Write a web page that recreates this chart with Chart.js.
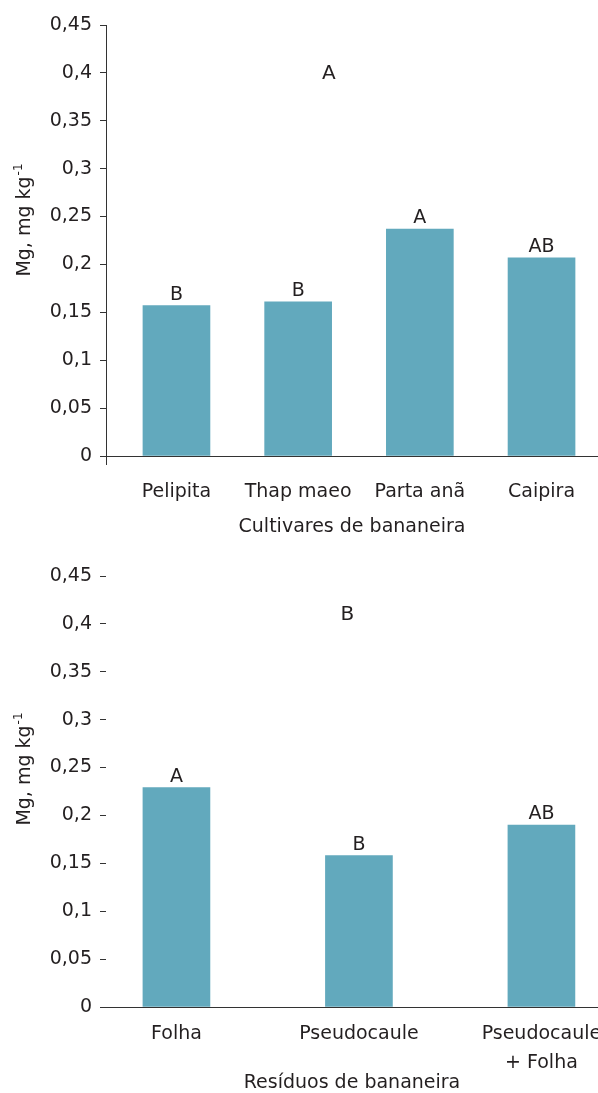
<!DOCTYPE html>
<html>
<head>
<meta charset="utf-8">
<script src="https://cdn.jsdelivr.net/npm/chart.js@4/dist/chart.umd.min.js"></script>
<style>
  html, body { margin: 0; padding: 0; background: #fff; }
  #wrap { position: relative; width: 598px; height: 1093px; overflow: hidden; }
  .box { position: absolute; left: 0; width: 598px; }
  #b1 { top: 0; height: 540px; }
  #b2 { top: 540px; height: 553px; }
</style>
</head>
<body>
<div id="wrap">
  <div class="box" id="b1"><canvas id="c1" width="598" height="540"></canvas></div>
  <div class="box" id="b2"><canvas id="c2" width="598" height="553"></canvas></div>
</div>
<script>
// ---- data ----
const cultivares = ['Pelipita', 'Thap maeo', 'Parta anã', 'Caipira'];
const mgCultivares = [0.157, 0.161, 0.237, 0.207];
const letrasCultivares = ['B', 'B', 'A', 'AB'];

const residuos = ['Folha', 'Pseudocaule', ['Pseudocaule', '+ Folha']];
const mgResiduos = [0.229, 0.158, 0.190];
const letrasResiduos = ['A', 'B', 'AB'];

const yTicks = [0, 0.05, 0.1, 0.15, 0.2, 0.25, 0.3, 0.35, 0.4, 0.45];
const painelTop = 'A';
const painelBottom = 'B';
const yTitle = 'Mg, mg kg';
const yTitleSup = '-1';
const xTitleTop = 'Cultivares de bananeira';
const xTitleBottom = 'Resíduos de bananeira';

// ---- styles ----
const FONT = 'DejaVu Sans';
const TXT = '#231f20';
const AX = '#333333';
const BAR = '#62a9bd';

const fmt = v => {
  const n = Number(v.toFixed(2));
  return n.toString().replace('.', ',');
};

const barLetters = {
  id: 'barLetters',
  afterDatasetsDraw(chart, args, opts) {
    const ctx = chart.ctx;
    const meta = chart.getDatasetMeta(0);
    ctx.save();
    ctx.font = '19px "' + FONT + '"';
    ctx.fillStyle = TXT;
    ctx.textAlign = 'center';
    ctx.textBaseline = 'alphabetic';
    meta.data.forEach((el, i) => {
      ctx.fillText(opts.letters[i], el.x, el.y - 6);
    });
    // panel letter
    const xs = chart.scales.x, ys = chart.scales.y;
    ctx.font = '20px "' + FONT + '"';
    ctx.textBaseline = 'middle';
    ctx.fillText(opts.panel, xs.getPixelForValue(opts.panelX), ys.getPixelForValue(opts.panelY));
    // y title with superscript
    ctx.font = '19px "' + FONT + '"';
    const w1 = ctx.measureText(yTitle).width;
    ctx.font = '12px "' + FONT + '"';
    const w2 = ctx.measureText(yTitleSup).width;
    const total = w1 + w2 + 1;
    ctx.translate(opts.titleX, opts.titleCY + total / 2);
    ctx.rotate(-Math.PI / 2);
    ctx.textAlign = 'left';
    ctx.textBaseline = 'alphabetic';
    ctx.font = '19px "' + FONT + '"';
    ctx.fillText(yTitle, 0, 0);
    ctx.font = '12px "' + FONT + '"';
    ctx.fillText(yTitleSup, w1 + 1, -8);
    ctx.restore();
  }
};

function makeChart(canvasId, cats, vals, letters, cfg) {
  return new Chart(document.getElementById(canvasId), {
    type: 'bar',
    data: {
      datasets: [{
        data: vals.map((v, i) => ({ x: i, y: v })),
        backgroundColor: BAR,
        borderWidth: 0,
        barThickness: 67
      }]
    },
    options: {
      responsive: false,
      animation: false,
      events: [],
      layout: { padding: { top: cfg.padTop, left: 0, right: 0, bottom: 0 } },
      plugins: {
        legend: { display: false },
        tooltip: { enabled: false },
        barLetters: {
          letters: letters, panel: cfg.panel, panelX: cfg.panelX, panelY: cfg.panelY,
          titleX: 30, titleCY: cfg.titleCY
        }
      },
      scales: {
        x: {
          type: 'linear',
          offset: false,
          min: cfg.xmin,
          max: cfg.xmax,
          afterBuildTicks: axis => {
            const t = cats.map((_, i) => ({ value: i }));
            if (cfg.leftTick) t.unshift({ value: cfg.xmin });
            axis.ticks = t;
          },
          afterFit: s => { s.height = cfg.xHeight; s.paddingLeft = 0; s.paddingRight = 0; },
          ticks: {
            autoSkip: false,
            maxRotation: 0,
            minRotation: 0,
            padding: cfg.xPad,
            color: TXT,
            font: { family: FONT, size: 19, lineHeight: 1.55 },
            callback: v => Number.isInteger(v) && v >= 0 && v < cats.length ? cats[v] : ''
          },
          grid: {
            offset: false,
            drawOnChartArea: false,
            drawTicks: cfg.leftTick,
            tickLength: 9,
            tickColor: ctx => (ctx.index === 0 && cfg.leftTick) ? AX : 'rgba(0,0,0,0)'
          },
          border: { display: true, color: AX, width: 1 },
          title: {
            display: true,
            text: cfg.xTitle,
            color: TXT,
            font: { family: FONT, size: 19, lineHeight: 1 },
            padding: { top: 0, bottom: cfg.titlePadBottom }
          }
        },
        y: {
          min: 0,
          max: 0.45,
          afterBuildTicks: axis => { axis.ticks = yTicks.map(v => ({ value: v })); },
          afterFit: s => { s.width = 106; s.paddingTop = 0; s.paddingBottom = 0; },
          ticks: {
            padding: 8,
            color: TXT,
            font: { family: FONT, size: 19 },
            callback: v => fmt(v)
          },
          grid: {
            drawOnChartArea: false,
            drawTicks: true,
            tickLength: 6,
            tickColor: AX
          },
          border: { display: cfg.yBorder, color: AX, width: 1 }
        }
      }
    },
    plugins: [barLetters]
  });
}

makeChart('c1', cultivares, mgCultivares, letrasCultivares, {
  padTop: 25, xHeight: 84, xmin: -0.579, xmax: 3.464, leftTick: true, xPad: 12,
  xTitle: xTitleTop, titlePadBottom: 3, yBorder: true,
  panel: painelTop, panelX: 1.253, panelY: 0.399, titleCY: 220
});

makeChart('c2', residuos, mgResiduos, letrasResiduos, {
  padTop: 36, xHeight: 86, xmin: -0.386, xmax: 2.310, leftTick: false, xPad: 12,
  xTitle: xTitleBottom, titlePadBottom: 0, yBorder: false,
  panel: painelBottom, panelX: 0.937, panelY: 0.409, titleCY: 229
});
</script>
</body>
</html>
